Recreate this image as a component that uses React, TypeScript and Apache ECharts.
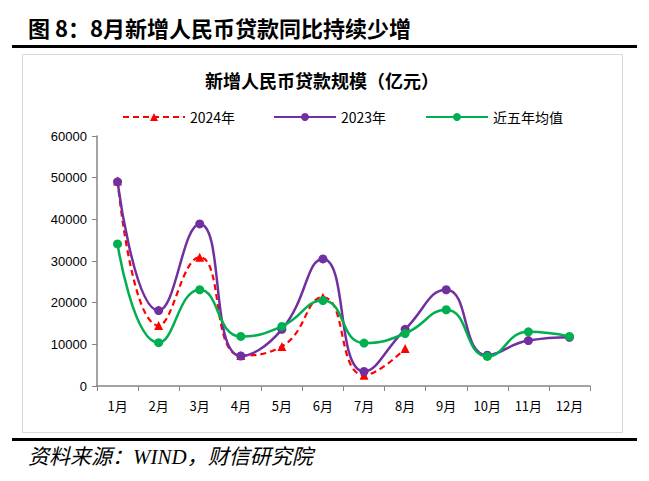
import React, { useEffect, useRef } from "react";
import * as echarts from "echarts";

const months = ["1月", "2月", "3月", "4月", "5月", "6月", "7月", "8月", "9月", "10月", "11月", "12月"];
const y2024 = [49200, 14500, 30900, 7300, 9500, 21300, 2600, 9000];
const y2023 = [49000, 18100, 38900, 7200, 13600, 30500, 3500, 13600, 23100, 7400, 10900, 11700];
const avg5 = [34100, 10400, 23100, 11900, 14300, 20500, 10300, 12600, 18300, 7100, 13000, 11900];
const yTicks = { min: 0, max: 60000, interval: 10000 };
const legendNames = ["2024年", "2023年", "近五年均值"];

const CJK = "'Noto Sans CJK SC', 'Noto Sans', sans-serif";

export default function App() {
  const ref = useRef<HTMLDivElement>(null);
  useEffect(() => {
    if (!ref.current) return;
    const chart = echarts.init(ref.current, null, { renderer: "svg" });
    const legendLefts = [117, 268, 420];
    chart.setOption({
      animation: false,
      backgroundColor: "#ffffff",
      title: {
        text: "新增人民币贷款规模（亿元）",
        left: 317,
        textAlign: "center",
        top: 66,
        textStyle: { fontFamily: CJK, fontSize: 18, fontWeight: "bold", color: "#000" },
      },
      legend: legendNames.map((n, i) => ({
        top: 105,
        left: legendLefts[i],
        itemWidth: 62,
        itemHeight: 10,
        itemGap: 10,
        textStyle: { fontFamily: CJK, fontSize: 14, color: "#000" },
        data: [n],
      })),
      graphic: [
        {
          type: "text",
          left: 28,
          top: 16,
          style: {
            text: "图 8：8月新增人民币贷款同比持续少增",
            font: "bold 22px 'Noto Sans CJK SC', serif",
            fill: "#000",
          },
        },
        { type: "rect", shape: { x: 12, y: 45, width: 625, height: 3 }, style: { fill: "#000" } },
        {
          type: "rect",
          shape: { x: 22.5, y: 54.5, width: 600, height: 378 },
          style: { fill: "none", stroke: "#d9d9d9", lineWidth: 1 },
        },
        { type: "rect", shape: { x: 12, y: 438, width: 625, height: 3 }, style: { fill: "#000" } },
        {
          type: "text",
          left: 28,
          top: 446,
          style: {
            text: "资料来源：WIND，财信研究院",
            font: "italic 21px 'Liberation Serif', 'Noto Sans CJK SC', serif",
            fill: "#000",
          },
        },
      ],
      grid: { left: 97, right: 59, top: 136, bottom: 95 },
      xAxis: {
        type: "category",
        data: months,
        boundaryGap: true,
        axisLine: { lineStyle: { color: "#868686", width: 1.5 } },
        axisTick: { show: true, length: 5, lineStyle: { color: "#868686" } },
        axisLabel: { fontFamily: CJK, fontSize: 13, color: "#000", margin: 13 },
      },
      yAxis: {
        type: "value",
        min: yTicks.min,
        max: yTicks.max,
        interval: yTicks.interval,
        splitLine: { show: false },
        axisLine: { show: true, lineStyle: { color: "#868686", width: 1.5 } },
        axisTick: { show: true, length: 5, lineStyle: { color: "#868686" } },
        axisLabel: {
          fontFamily: "'Liberation Sans', sans-serif",
          fontSize: 13,
          color: "#000",
          margin: 10,
          formatter: (v: number) => String(v),
        },
      },
      series: [
        {
          name: "2024年",
          type: "line",
          data: y2024,
          smooth: 0.5,
          z: 2,
          symbol: "triangle",
          symbolSize: 9,
          itemStyle: { color: "#FF0000" },
          lineStyle: { color: "#FF0000", width: 2.2, type: [6, 4] },
        },
        {
          name: "2023年",
          type: "line",
          data: y2023,
          smooth: 0.5,
          z: 3,
          symbol: "circle",
          symbolSize: 9,
          itemStyle: { color: "#7030A0" },
          lineStyle: { color: "#7030A0", width: 2.5 },
        },
        {
          name: "近五年均值",
          type: "line",
          data: avg5,
          smooth: 0.5,
          z: 4,
          symbol: "circle",
          symbolSize: 9,
          itemStyle: { color: "#00B050" },
          lineStyle: { color: "#00B050", width: 2.5 },
        },
      ],
    });
    return () => chart.dispose();
  }, []);
  return (
    <div
      ref={ref}
      style={{ position: "fixed", left: 0, top: 0, width: 649, height: 481 }}
    />
  );
}
